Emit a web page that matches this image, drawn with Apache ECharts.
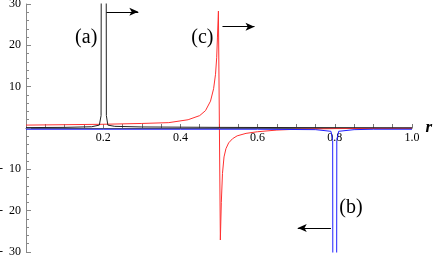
<!DOCTYPE html>
<html><head><meta charset="utf-8">
<script src="https://cdn.jsdelivr.net/npm/echarts@6/dist/echarts.min.js"></script>
<style>html,body{margin:0;padding:0;background:#fff}#c{width:436px;height:257px}</style>
</head><body><div id="c"></div>
<script>
// curve (a): black, spike near r = 0.2
const aR = [0, 0.1, 0.17, 0.19, 0.1945, 0.1952, 0.2075, 0.2082, 0.212, 0.23, 0.3, 0.5, 0.7, 1.0];
const aV = [0.1, 0.15, 0.3, 0.7, 3, 60, 60, 3, 0.7, 0.4, 0.25, 0.15, 0.1, 0.05];
// curve (b): blue, dip near r = 0.8
const bR = [0, 0.2, 0.4, 0.6, 0.75, 0.79, 0.7945, 0.7952, 0.8045, 0.8052, 0.81, 0.85, 0.9, 1.0];
const bV = [-0.3, -0.3, -0.3, -0.3, -0.4, -0.8, -3, -60, -60, -3, -0.8, -0.4, -0.3, -0.3];
// curve (c): red, dispersive resonance near r = 0.5
const cR = [0, 0.1, 0.2, 0.3, 0.37, 0.42, 0.45, 0.465, 0.478, 0.486, 0.491, 0.494, 0.496, 0.4985, 0.5035, 0.506, 0.509, 0.513, 0.518, 0.525, 0.535, 0.547, 0.57, 0.6, 0.65, 0.7, 0.8, 0.9, 1.0];
const cV = [0.7, 0.8, 0.9, 1.1, 1.3, 2.0, 3.0, 4.2, 6.5, 9.5, 13, 17, 22, 28.3, -27.1, -18, -11, -7, -5, -3.6, -2.6, -1.9, -1.3, -0.9, -0.5, -0.3, -0.15, -0.08, -0.05];
// tick labels
const xTicks = [0.2, 0.4, 0.6, 0.8, 1.0];
const yTicks = [30, 20, 10, -10, -20, -30];
// annotations
const labels = [{t: '(a)', r: 0.156, v: 21.8}, {t: '(c)', r: 0.457, v: 21.8}, {t: '(b)', r: 0.842, v: -19.4}];
const arrows = [[0.208, 28.1, 0.291, 28.1], [0.509, 24.5, 0.592, 24.5], [0.79, -24.2, 0.704, -24.2]];

const zip = (xs, ys) => xs.map((x, i) => [x, ys[i]]);
const serif = 'Liberation Serif';
const gridTop = 4, gridBottom = 5, H = 257;
const chart = echarts.init(document.getElementById('c'), null, {renderer: 'canvas'});
chart.setOption({
  animation: false,
  grid: {left: 26, right: 24, top: gridTop, bottom: gridBottom, containLabel: false, outerBoundsMode: 'none'},
  xAxis: {
    type: 'value', min: 0, max: 1, interval: 0.2,
    position: 'bottom', offset: -(H - gridTop - gridBottom) / 2,
    name: 'r', nameLocation: 'end', nameGap: 11,
    nameTextStyle: {fontFamily: serif, fontStyle: 'italic', fontWeight: 'bold', fontSize: 17, color: '#000', verticalAlign: 'middle'},
    axisLine: {onZero: false, lineStyle: {color: '#555', width: 1}},
    axisTick: {show: true, inside: true, length: 4, lineStyle: {color: '#777'}},
    minorTick: {show: true, splitNumber: 4, length: 4, lineStyle: {color: '#777'}},
    axisLabel: {fontFamily: serif, fontSize: 12, color: '#000', margin: 4,
      formatter: v => xTicks.some(t => Math.abs(t - v) < 1e-9) ? v.toFixed(1) : ''},
    splitLine: {show: false}, minorSplitLine: {show: false}
  },
  yAxis: {
    type: 'value', min: -30, max: 30, interval: 10,
    axisLine: {onZero: false, lineStyle: {color: '#888', width: 1}},
    axisTick: {show: true, inside: true, length: 5, lineStyle: {color: '#888'}},
    minorTick: {show: true, splitNumber: 5, length: 3, lineStyle: {color: '#888'}},
    axisLabel: {fontFamily: serif, fontSize: 12, color: '#000', margin: 5,
      formatter: v => yTicks.includes(v) ? (v < 0 ? '-  ' + (-v) : String(v)) : ''},
    splitLine: {show: false}, minorSplitLine: {show: false}
  },
  series: [
    {type: 'line', data: zip(cR, cV), symbol: 'none', clip: true,
      lineStyle: {color: '#ff3030', width: 1}, z: 3},
    {type: 'line', data: zip(bR, bV), symbol: 'none', clip: true,
      lineStyle: {color: '#2020ff', width: 1}, z: 4},
    {type: 'line', data: zip(aR, aV), symbol: 'none', clip: true,
      lineStyle: {color: '#222', width: 1}, z: 5,
      markLine: {
        silent: true, symbol: ['none', 'arrow'], symbolSize: [6, 9],
        lineStyle: {color: '#000', width: 1, type: 'solid'}, label: {show: false},
        data: arrows.map(a => [{coord: [a[0], a[1]]}, {coord: [a[2], a[3]]}])
      },
      markPoint: {
        silent: true, symbol: 'circle', symbolSize: 0,
        label: {show: true, position: 'inside', fontFamily: serif, fontSize: 20, color: '#000',
          formatter: p => p.name},
        data: labels.map(l => ({name: l.t, coord: [l.r, l.v]}))
      }
    }
  ]
});
</script></body></html>
